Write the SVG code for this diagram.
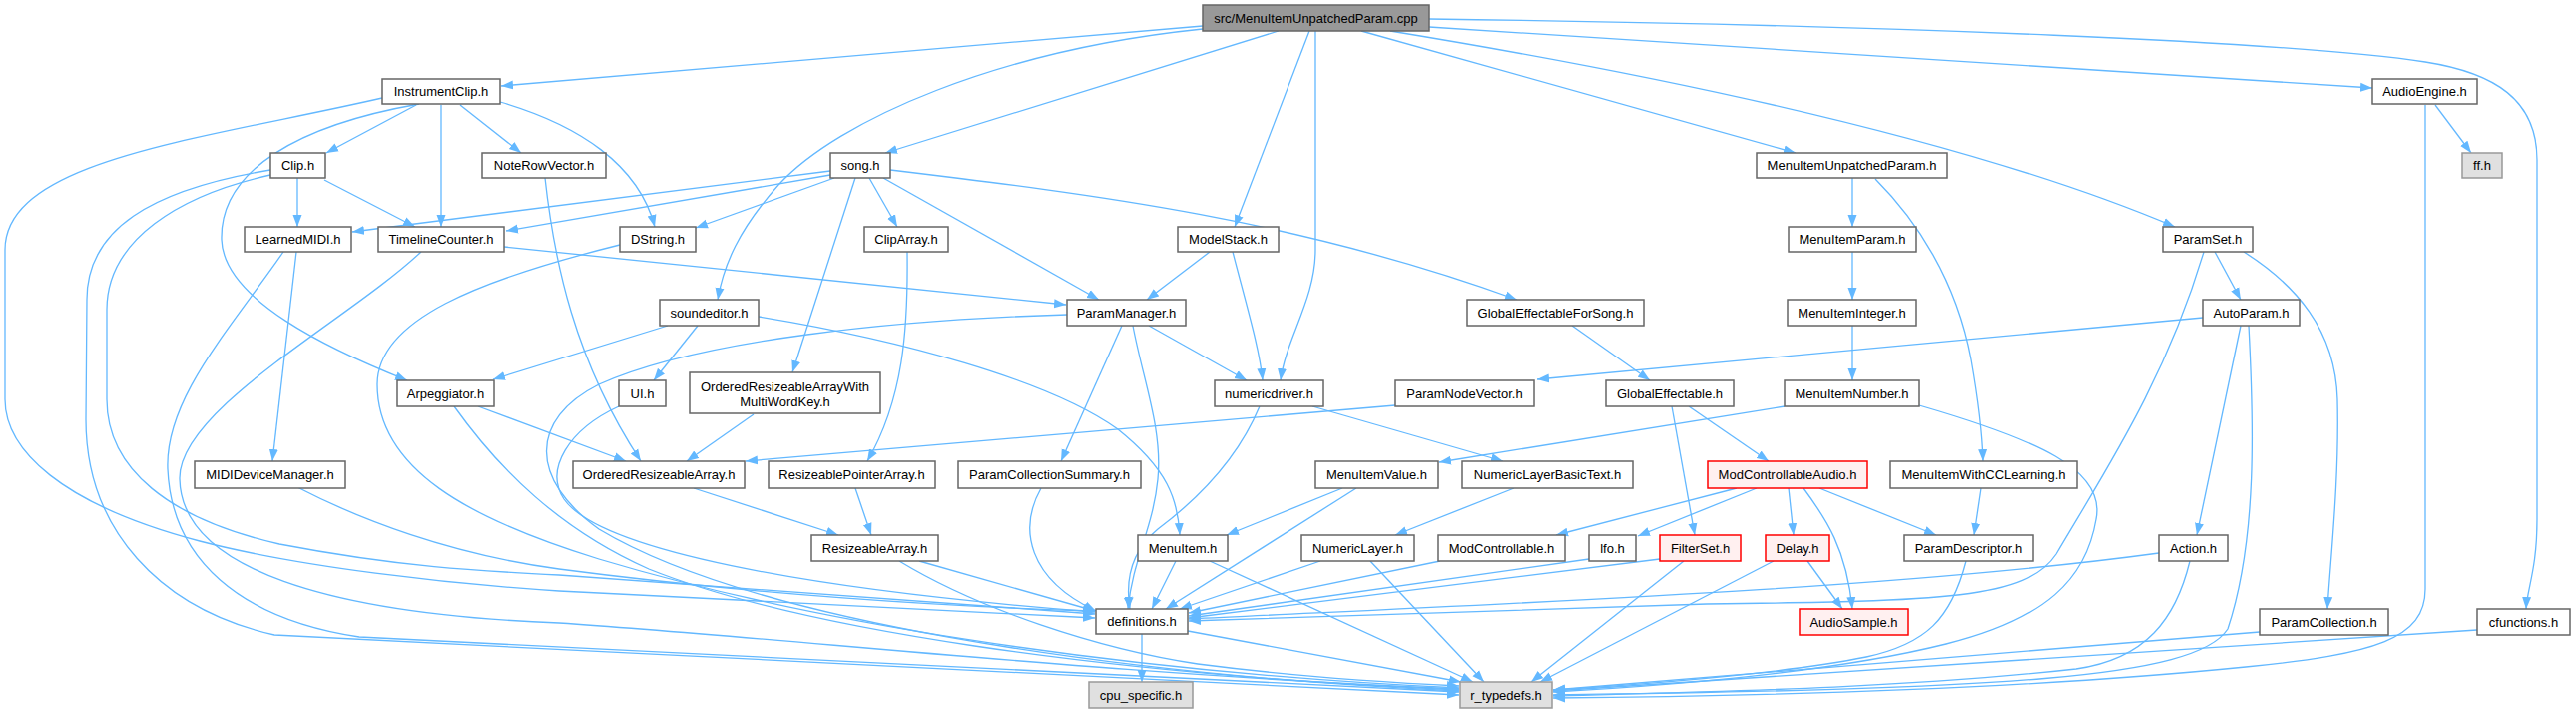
<svg xmlns="http://www.w3.org/2000/svg" width="2581" height="714" viewBox="0 0 2581 714">
<style>
.n rect{fill:#ffffff;stroke:#666666;stroke-width:1.5}
.m rect{fill:#999999;stroke:#666666;stroke-width:1.5}
.g rect{fill:#e0e0e0;stroke:#999999;stroke-width:1.5}
.r rect{fill:#fff0f0;stroke:#ff0000;stroke-width:1.5}
text{font-family:"Liberation Sans",Arial,Helvetica,sans-serif;font-size:13px;fill:#000000;text-anchor:middle}
#edges path{fill:none;stroke:#63b8ff;stroke-width:1.3;marker-end:url(#a)}
</style>
<defs>
<marker id="a" markerUnits="userSpaceOnUse" markerWidth="12" markerHeight="10" viewBox="0 0 12 10" refX="12" refY="5" orient="auto">
<path d="M0,0.5 L12,5 L0,9.5 z" fill="#63b8ff"/>
</marker>
</defs>
<rect width="2581" height="714" fill="#ffffff"/>
<g id="edges">
<path d="M1205,26 L502,86"/>
<path d="M1205,29 C1000,50 840,120 780,185 C740,230 725,265 719,300"/>
<path d="M1281,31 L887,153"/>
<path d="M1312,31 L1237,227"/>
<path d="M1318,31 L1318,250 C1318,300 1288,340 1283,381"/>
<path d="M1364,31 L1799,153"/>
<path d="M1393,31 C1600,65 1950,130 2179,227"/>
<path d="M1432,27 L2377,88"/>
<path d="M1432,19 C1900,25 2300,42 2430,62 C2500,73 2542,100 2542,160 L2542,520 C2542,570 2532,590 2531,610"/>
<path d="M417,105 L327,153"/>
<path d="M442,105 L442,227"/>
<path d="M461,105 L522,153"/>
<path d="M501,102 C580,125 640,165 656,227"/>
<path d="M420,104 C300,125 220,170 222,240 C224,300 330,350 408,381"/>
<path d="M383,98 C200,140 5,160 5,250 L5,400 C5,450 60,505 200,542 C300,568 450,585 560,592 L1097,619"/>
<path d="M298,178 L298,227"/>
<path d="M325,180 L416,227"/>
<path d="M271,170 C150,190 87,230 87,300 L86,420 C86,530 160,610 275,636 L1462,696"/>
<path d="M271,175 C180,195 107,240 107,310 L107,400 C107,470 170,520 280,545 C400,568 480,572 560,576 L1097,615"/>
<path d="M297,252 L273,462"/>
<path d="M284,252 C230,330 165,400 168,470 C172,560 240,620 360,638 L1462,693"/>
<path d="M298,488 C360,520 450,555 560,570 C750,595 950,608 1097,612"/>
<path d="M505,247 L1068,305"/>
<path d="M422,252 C350,320 178,410 180,480 C182,570 330,615 560,624 C800,640 1100,675 1462,690"/>
<path d="M621,245 C480,280 378,320 378,385 C378,470 470,520 600,560 C800,620 1100,672 1462,689"/>
<path d="M479,407 L627,462"/>
<path d="M455,407 C500,470 560,530 650,570 C800,630 1100,675 1462,691"/>
<path d="M669,326 L494,380"/>
<path d="M699,326 L655,381"/>
<path d="M760,317 C900,340 1050,380 1120,430 C1170,470 1180,500 1182,536"/>
<path d="M620,407 C570,430 545,470 565,500 C600,550 800,590 1097,613"/>
<path d="M1069,315 C900,320 700,340 600,385 C530,420 530,480 600,530 C750,620 1100,675 1462,692"/>
<path d="M1151,326 L1249,381"/>
<path d="M1124,326 L1063,462"/>
<path d="M1135,326 C1145,380 1165,430 1160,480 C1155,530 1135,560 1130,610"/>
<path d="M1262,407 C1240,460 1200,500 1160,530 C1130,555 1128,585 1132,610"/>
<path d="M1315,407 L1506,462"/>
<path d="M1212,252 L1149,300"/>
<path d="M1235,252 C1250,310 1262,350 1265,381"/>
<path d="M832,171 L353,232"/>
<path d="M832,175 L507,231"/>
<path d="M836,178 L697,228"/>
<path d="M871,178 L899,227"/>
<path d="M885,178 L1101,300"/>
<path d="M892,170 C1100,195 1300,220 1520,300"/>
<path d="M857,178 L794,373"/>
<path d="M909,252 C910,330 905,400 869,462"/>
<path d="M1575,326 L1653,381"/>
<path d="M1675,407 L1698,536"/>
<path d="M1692,407 L1772,462"/>
<path d="M1398,406 L747,462"/>
<path d="M2207,318 L1540,380"/>
<path d="M2245,326 L2201,536"/>
<path d="M2253,326 C2258,420 2262,540 2232,630 C2200,680 2000,690 1556,696"/>
<path d="M2219,252 L2245,300"/>
<path d="M2248,252 C2300,285 2340,330 2342,400 C2344,480 2335,560 2332,610"/>
<path d="M2208,252 C2170,380 2110,470 2060,555 C2030,600 1950,602 1710,605 L1191,622"/>
<path d="M2163,554 C1900,590 1500,605 1191,620"/>
<path d="M2194,562 C2180,620 2150,660 2080,670 C1900,690 1700,693 1556,697"/>
<path d="M2264,633 L1556,691"/>
<path d="M2482,631 L1556,692"/>
<path d="M2440,105 L2476,153"/>
<path d="M2430,105 L2430,590 C2430,640 2380,655 2250,668 C2050,688 1800,697 1556,699"/>
<path d="M1856,178 L1856,227"/>
<path d="M1879,179 C1920,220 1960,280 1975,360 C1982,400 1986,430 1987,462"/>
<path d="M1856,252 L1856,300"/>
<path d="M1856,326 L1856,381"/>
<path d="M1788,407 L1442,463"/>
<path d="M1923,406 C2040,440 2110,470 2100,520 C2090,580 2050,620 1950,645 C1850,670 1700,685 1556,693"/>
<path d="M1345,489 L1229,536"/>
<path d="M1359,489 L1168,610"/>
<path d="M1517,489 L1398,536"/>
<path d="M1178,562 L1154,610"/>
<path d="M1212,562 L1476,683"/>
<path d="M1323,562 L1182,610"/>
<path d="M1373,562 L1487,683"/>
<path d="M1443,562 L1191,614"/>
<path d="M1592,560 L1191,617"/>
<path d="M1663,560 L1191,619"/>
<path d="M1687,562 L1534,683"/>
<path d="M1740,489 L1559,536"/>
<path d="M1760,489 L1641,537"/>
<path d="M1792,489 L1797,536"/>
<path d="M1807,489 C1830,520 1850,550 1856,610"/>
<path d="M1823,489 L1940,536"/>
<path d="M1811,562 L1846,610"/>
<path d="M1777,562 L1543,683"/>
<path d="M1985,489 L1978,536"/>
<path d="M1970,562 C1955,620 1930,645 1870,658 C1800,672 1700,682 1556,691"/>
<path d="M1144,635 L1144,683"/>
<path d="M1190,632 L1464,683"/>
<path d="M921,562 L1097,612"/>
<path d="M901,562 C980,610 1100,650 1200,665 C1300,678 1400,684 1462,687"/>
<path d="M695,489 L840,536"/>
<path d="M857,489 L873,536"/>
<path d="M755,415 L688,462"/>
<path d="M546,178 C555,260 575,360 642,462"/>
<path d="M1043,489 C1020,530 1030,580 1098,612"/>
</g>
<g id="n_src" class="m"><rect x="1205" y="5" width="227" height="26"/><text x="1318.5" y="22.5">src/MenuItemUnpatchedParam.cpp</text></g>
<g id="n_instrumentclip" class="n"><rect x="383" y="79" width="118" height="25"/><text x="442" y="96">InstrumentClip.h</text></g>
<g id="n_song" class="n"><rect x="832" y="153" width="60" height="25"/><text x="862" y="170">song.h</text></g>
<g id="n_soundeditor" class="n"><rect x="661" y="300" width="99" height="26"/><text x="710.5" y="317.5">soundeditor.h</text></g>
<g id="n_modelstack" class="n"><rect x="1180" y="227" width="101" height="25"/><text x="1230.5" y="244">ModelStack.h</text></g>
<g id="n_numericdriver" class="n"><rect x="1217" y="381" width="109" height="26"/><text x="1271.5" y="398.5">numericdriver.h</text></g>
<g id="n_menuitemunpatchedparam" class="n"><rect x="1760" y="153" width="191" height="25"/><text x="1855.5" y="170">MenuItemUnpatchedParam.h</text></g>
<g id="n_paramset" class="n"><rect x="2167" y="227" width="90" height="25"/><text x="2212" y="244">ParamSet.h</text></g>
<g id="n_audioengine" class="n"><rect x="2377" y="79" width="105" height="25"/><text x="2429.5" y="96">AudioEngine.h</text></g>
<g id="n_cfunctions" class="n"><rect x="2482" y="610" width="93" height="26"/><text x="2528.5" y="627.5">cfunctions.h</text></g>
<g id="n_clip" class="n"><rect x="271" y="153" width="55" height="25"/><text x="298.5" y="170">Clip.h</text></g>
<g id="n_noterowvector" class="n"><rect x="483" y="153" width="124" height="25"/><text x="545" y="170">NoteRowVector.h</text></g>
<g id="n_timelinecounter" class="n"><rect x="379" y="227" width="126" height="25"/><text x="442" y="244">TimelineCounter.h</text></g>
<g id="n_dstring" class="n"><rect x="621" y="227" width="76" height="25"/><text x="659" y="244">DString.h</text></g>
<g id="n_arpeggiator" class="n"><rect x="398" y="381" width="97" height="26"/><text x="446.5" y="398.5">Arpeggiator.h</text></g>
<g id="n_definitions" class="n"><rect x="1098" y="610" width="92" height="25"/><text x="1144" y="627">definitions.h</text></g>
<g id="n_learnedmidi" class="n"><rect x="245" y="227" width="107" height="25"/><text x="298.5" y="244">LearnedMIDI.h</text></g>
<g id="n_r_typedefs" class="g"><rect x="1463" y="683" width="92" height="26"/><text x="1509" y="700.5">r_typedefs.h</text></g>
<g id="n_mididevicemanager" class="n"><rect x="195" y="462" width="151" height="27"/><text x="270.5" y="480">MIDIDeviceManager.h</text></g>
<g id="n_orderedresizeablearray" class="n"><rect x="574" y="462" width="172" height="27"/><text x="660" y="480">OrderedResizeableArray.h</text></g>
<g id="n_parammanager" class="n"><rect x="1069" y="300" width="119" height="26"/><text x="1128.5" y="317.5">ParamManager.h</text></g>
<g id="n_cliparray" class="n"><rect x="866" y="227" width="84" height="25"/><text x="908" y="244">ClipArray.h</text></g>
<g id="n_globaleffectableforsong" class="n"><rect x="1470" y="300" width="177" height="26"/><text x="1558.5" y="317.5">GlobalEffectableForSong.h</text></g>
<g id="n_orawmwk" class="n"><rect x="691" y="373" width="191" height="41"/><text x="786.5" y="392">OrderedResizeableArrayWith</text><text x="786.5" y="407">MultiWordKey.h</text></g>
<g id="n_resizeablepointerarray" class="n"><rect x="770" y="462" width="167" height="27"/><text x="853.5" y="480">ResizeablePointerArray.h</text></g>
<g id="n_resizeablearray" class="n"><rect x="813" y="536" width="127" height="26"/><text x="876.5" y="553.5">ResizeableArray.h</text></g>
<g id="n_paramcollectionsummary" class="n"><rect x="960" y="462" width="183" height="27"/><text x="1051.5" y="480">ParamCollectionSummary.h</text></g>
<g id="n_ui" class="n"><rect x="620" y="381" width="47" height="26"/><text x="643.5" y="398.5">UI.h</text></g>
<g id="n_menuitem" class="n"><rect x="1140" y="536" width="90" height="26"/><text x="1185" y="553.5">MenuItem.h</text></g>
<g id="n_numericlayerbasictext" class="n"><rect x="1465" y="462" width="171" height="27"/><text x="1550.5" y="480">NumericLayerBasicText.h</text></g>
<g id="n_globaleffectable" class="n"><rect x="1609" y="381" width="128" height="26"/><text x="1673" y="398.5">GlobalEffectable.h</text></g>
<g id="n_filterset" class="r"><rect x="1663" y="536" width="81" height="26"/><text x="1703.5" y="553.5">FilterSet.h</text></g>
<g id="n_modcontrollableaudio" class="r"><rect x="1711" y="462" width="160" height="27"/><text x="1791" y="480">ModControllableAudio.h</text></g>
<g id="n_modcontrollable" class="n"><rect x="1441" y="536" width="127" height="26"/><text x="1504.5" y="553.5">ModControllable.h</text></g>
<g id="n_lfo" class="n"><rect x="1592" y="536" width="47" height="26"/><text x="1615.5" y="553.5">lfo.h</text></g>
<g id="n_delay" class="r"><rect x="1769" y="536" width="64" height="26"/><text x="1801" y="553.5">Delay.h</text></g>
<g id="n_audiosample" class="r"><rect x="1803" y="610" width="109" height="26"/><text x="1857.5" y="627.5">AudioSample.h</text></g>
<g id="n_paramdescriptor" class="n"><rect x="1908" y="536" width="129" height="26"/><text x="1972.5" y="553.5">ParamDescriptor.h</text></g>
<g id="n_paramnodevector" class="n"><rect x="1398" y="381" width="139" height="26"/><text x="1467.5" y="398.5">ParamNodeVector.h</text></g>
<g id="n_autoparam" class="n"><rect x="2207" y="300" width="97" height="26"/><text x="2255.5" y="317.5">AutoParam.h</text></g>
<g id="n_action" class="n"><rect x="2163" y="536" width="69" height="26"/><text x="2197.5" y="553.5">Action.h</text></g>
<g id="n_paramcollection" class="n"><rect x="2264" y="610" width="129" height="26"/><text x="2328.5" y="627.5">ParamCollection.h</text></g>
<g id="n_menuitemparam" class="n"><rect x="1792" y="227" width="128" height="25"/><text x="1856" y="244">MenuItemParam.h</text></g>
<g id="n_menuiteminteger" class="n"><rect x="1791" y="300" width="129" height="26"/><text x="1855.5" y="317.5">MenuItemInteger.h</text></g>
<g id="n_menuitemnumber" class="n"><rect x="1788" y="381" width="135" height="26"/><text x="1855.5" y="398.5">MenuItemNumber.h</text></g>
<g id="n_menuitemvalue" class="n"><rect x="1318" y="462" width="123" height="27"/><text x="1379.5" y="480">MenuItemValue.h</text></g>
<g id="n_numericlayer" class="n"><rect x="1304" y="536" width="113" height="26"/><text x="1360.5" y="553.5">NumericLayer.h</text></g>
<g id="n_menuitemwithcclearning" class="n"><rect x="1894" y="462" width="187" height="27"/><text x="1987.5" y="480">MenuItemWithCCLearning.h</text></g>
<g id="n_ff" class="g"><rect x="2467" y="153" width="40" height="25"/><text x="2487" y="170">ff.h</text></g>
<g id="n_cpu_specific" class="g"><rect x="1091" y="683" width="104" height="26"/><text x="1143" y="700.5">cpu_specific.h</text></g>
</svg>
